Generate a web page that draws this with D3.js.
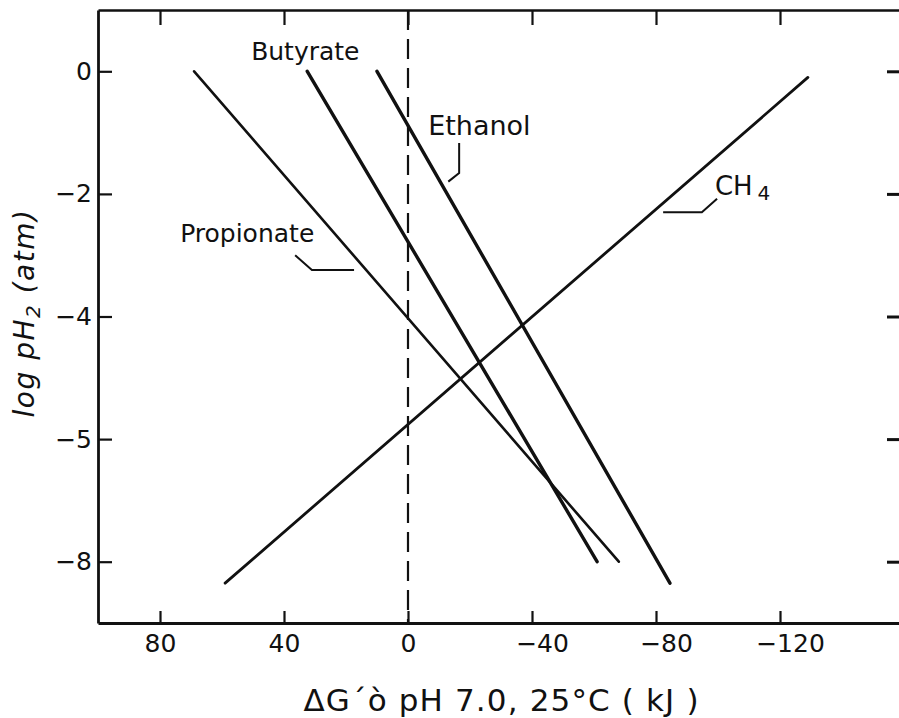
<!DOCTYPE html>
<html>
<head>
<meta charset="utf-8">
<script src="https://cdn.jsdelivr.net/npm/d3@7/dist/d3.min.js"></script>
<style>
  html, body { margin: 0; padding: 0; background: #fff; }
  svg { display: block; }
  text { font-family: "DejaVu Sans", "Liberation Sans", sans-serif; fill: #111; }
</style>
</head>
<body>
<svg id="chart" width="899" height="718"></svg>
<script>
// ---------------- data ----------------
const seriesNames = ["Propionate", "Butyrate", "Ethanol", "CH4"];
// each line: [deltaG (kJ), log pH2] at its two ends
const propionate = [[69, 0.0], [-68, -8.0]];
const butyrate   = [[32.5, 0.0], [-61, -8.0]];
const ethanol    = [[10, 0.0], [-84.5, -8.35]];
const ch4        = [[59, -8.35], [-129, -0.1]];
const seriesData = [propionate, butyrate, ethanol, ch4];
const seriesWidth = [2.6, 3.4, 3.4, 2.8];

const xTickValues = [80, 40, 0, -40, -80, -120];
const xTickLabels = ["80", "40", "0", "\u221240", "\u221280", "\u2212120"];
const yTickValues = [0, -2, -4, -6, -8];
const yTickLabels = ["0", "\u22122", "\u22124", "\u22125", "\u22128"];

// annotation anchors in data units
const labelAnchors = [
  { name: "Propionate", x: 73.5, y: -2.78 },
  { name: "Butyrate",   x: 50.6, y: 0.18 },
  { name: "Ethanol",    x: -6.5, y: -1.04 },
  { name: "CH4",        x: -99.0, y: -2.02 }
];
const leaders = [
  [[36.4, -3.0], [31.0, -3.24], [17.4, -3.24]],
  [[-16.5, -1.17], [-16.5, -1.66], [-13.0, -1.8]],
  [[-99.7, -2.08], [-94.8, -2.30], [-82.3, -2.30]]
];

// ---------------- layout ----------------
const svg = d3.select("#chart");
svg.append("rect").attr("width", 899).attr("height", 718).attr("fill", "#fff");

const x = d3.scaleLinear().domain([100, -160]).range([98, 904]);
const y = d3.scaleLinear().domain([1, -9]).range([10, 623]);
const ink = "#111";

// zero dashed line
svg.append("line")
  .attr("x1", x(0)).attr("x2", x(0))
  .attr("y1", y.range()[0]).attr("y2", y.range()[1])
  .attr("stroke", ink).attr("stroke-width", 2.2)
  .attr("stroke-dasharray", "20,9");

// axes
function styleAxis(g, w) {
  g.select(".domain").attr("stroke", ink).attr("stroke-width", w);
  g.selectAll(".tick line").attr("stroke", ink).attr("stroke-width", 2.2);
}

const gBottom = svg.append("g").attr("transform", `translate(0,${y.range()[1]})`)
  .call(d3.axisBottom(x).tickValues(xTickValues)
    .tickFormat((d, i) => xTickLabels[i])
    .tickSizeInner(-12).tickSizeOuter(0).tickPadding(11));
styleAxis(gBottom, 2.8);
gBottom.selectAll(".tick text")
  .attr("font-size", 25).attr("fill", ink)
  .attr("dx", (d) => d < 0 ? 10 : 0);

const gTop = svg.append("g").attr("transform", `translate(0,${y.range()[0]})`)
  .call(d3.axisTop(x).tickValues(xTickValues).tickFormat("")
    .tickSizeInner(-15).tickSizeOuter(0));
styleAxis(gTop, 2.6);

const gLeft = svg.append("g").attr("transform", `translate(${x.range()[0]},0)`)
  .call(d3.axisLeft(y).tickValues(yTickValues)
    .tickFormat((d, i) => yTickLabels[i])
    .tickSizeInner(-14).tickSizeOuter(0).tickPadding(6));
styleAxis(gLeft, 2.8);
gLeft.selectAll(".tick text").attr("font-size", 25).attr("fill", ink);

const gRight = svg.append("g").attr("transform", `translate(${x.range()[1]},0)`)
  .call(d3.axisLeft(y).tickValues(yTickValues).tickFormat("")
    .tickSizeInner(17).tickSizeOuter(0));
styleAxis(gRight, 2.6);
gRight.selectAll(".tick line").attr("stroke-width", 3);

// series lines
const line = d3.line().x(d => x(d[0])).y(d => y(d[1]));
svg.append("g").selectAll("path").data(seriesData).join("path")
  .attr("d", line)
  .attr("fill", "none")
  .attr("stroke", ink)
  .attr("stroke-width", (d, i) => seriesWidth[i])
  .attr("stroke-linecap", "round");

// leaders
svg.append("g").selectAll("path").data(leaders).join("path")
  .attr("d", line)
  .attr("fill", "none")
  .attr("stroke", ink)
  .attr("stroke-width", 2);

// series labels
labelAnchors.forEach(a => {
  const t = svg.append("text")
    .attr("x", x(a.x)).attr("y", y(a.y))
    .attr("font-size", a.name === "Ethanol" ? 27 : 25);
  if (a.name === "CH4") {
    t.attr("font-size", 26);
    t.append("tspan").text("CH");
    t.append("tspan").attr("font-size", 20).attr("dx", 5).attr("dy", 5).text("4");
  } else {
    t.text(a.name);
  }
});

// axis titles
svg.append("text")
  .attr("x", 501).attr("y", 711)
  .attr("text-anchor", "middle")
  .attr("font-size", 31)
  .attr("textLength", 395).attr("lengthAdjust", "spacing")
  .text("\u0394G\u00b4\u00f2  pH 7.0, 25\u00b0C ( kJ )");

const yt = svg.append("text")
  .attr("transform", "translate(34,313) rotate(-90)")
  .attr("text-anchor", "middle")
  .attr("font-size", 28)
  .attr("font-style", "italic")
  .attr("letter-spacing", 1.5);
yt.append("tspan").text("log pH");
yt.append("tspan").attr("font-size", 20).attr("dy", 6).text("2");
yt.append("tspan").attr("dy", -6).text(" (atm)");
</script>
</body>
</html>
